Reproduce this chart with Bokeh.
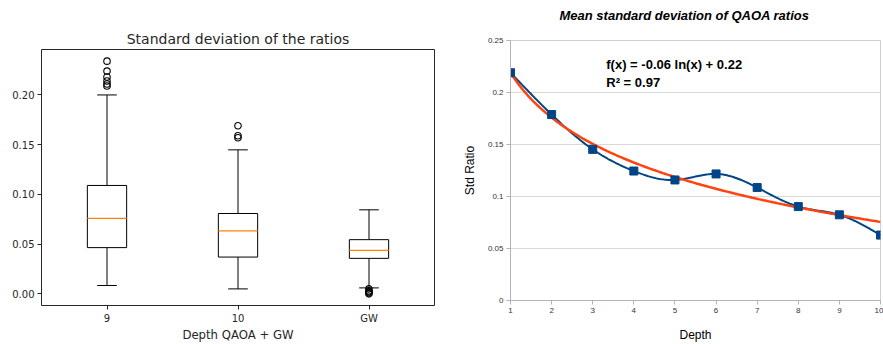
import numpy as np
from bokeh.plotting import figure
from bokeh.layouts import row, column
from bokeh.models import FixedTicker, Title, Label
from bokeh.embed import file_html
from bokeh.resources import INLINE

# ---------------- data: left box plot ----------------
box_labels = ["9", "10", "GW"]
whisker_low = [0.0084, 0.0050, 0.0060]
q1 = [0.0465, 0.0370, 0.0357]
median = [0.0760, 0.0633, 0.0437]
q3 = [0.1090, 0.0808, 0.0545]
whisker_high = [0.2000, 0.1448, 0.0845]
outliers_9 = [0.234, 0.224, 0.218, 0.214, 0.211, 0.209]
outliers_10 = [0.169, 0.159, 0.157]
outliers_gw = [0.005, 0.003, 0.002, 0.001, 0.000]
left_yticks = [0.00, 0.05, 0.10, 0.15, 0.20]
left_ytick_labels = ["0.00", "0.05", "0.10", "0.15", "0.20"]

# ---------------- data: right line chart ----------------
depth = [1, 2, 3, 4, 5, 6, 7, 8, 9, 10]
std_ratio = [0.219, 0.1788, 0.1453, 0.1245, 0.1159, 0.1217, 0.1086, 0.0903, 0.0824, 0.0629]
right_yticks = [0, 0.05, 0.1, 0.15, 0.2, 0.25]
right_ytick_labels = ["0", "0.05", "0.1", "0.15", "0.2", "0.25"]
eq_line1 = "f(x) = -0.06 ln(x) + 0.22"
eq_line2 = "R\u00b2 = 0.97"

# ================= left figure =================
MPL_FONT = "DejaVu Sans"
p1 = figure(width=440, height=344, output_backend="svg", toolbar_location=None,
            x_range=(0.5, 3.5), y_range=(-0.0117, 0.2457),
            min_border_left=41, min_border_right=6, min_border_top=49, min_border_bottom=39)
p1.title = Title(text="Standard deviation of the ratios", align="center",
                 text_font=MPL_FONT, text_font_size="14px", text_font_style="normal",
                 text_color="#262626", standoff=5)
p1.xgrid.visible = False
p1.ygrid.visible = False
p1.outline_line_color = "#262626"
p1.outline_line_width = 1
p1.outline_line_alpha = 1.0

pos = list(range(1, len(box_labels) + 1))
bw = 0.3
cw = 0.15
for ax in (p1.xaxis[0], p1.yaxis[0]):
    ax.axis_line_color = None
    ax.major_tick_line_color = "#262626"
    ax.major_tick_out = 4
    ax.major_tick_in = 0
    ax.minor_tick_line_color = None
    ax.major_label_text_font = MPL_FONT
    ax.major_label_text_font_size = "10px"
    ax.major_label_text_color = "#262626"
    ax.major_label_standoff = 3
p1.xaxis.ticker = FixedTicker(ticks=pos)
p1.xaxis.major_label_overrides = {pp: lab for pp, lab in zip(pos, box_labels)}
p1.yaxis.ticker = FixedTicker(ticks=left_yticks)
p1.yaxis.major_label_overrides = {t: l for t, l in zip(left_yticks, left_ytick_labels)}
p1.xaxis.axis_label = "Depth QAOA + GW"
p1.xaxis.axis_label_text_font = MPL_FONT
p1.xaxis.axis_label_text_font_size = "11.7px"
p1.xaxis.axis_label_text_font_style = "normal"
p1.xaxis.axis_label_text_color = "#262626"
p1.xaxis.axis_label_standoff = 1

# whiskers
p1.segment(x0=pos, y0=q1, x1=pos, y1=whisker_low, line_color="black", line_width=1)
p1.segment(x0=pos, y0=q3, x1=pos, y1=whisker_high, line_color="black", line_width=1)
# caps
p1.segment(x0=[x - cw / 2 for x in pos], y0=whisker_low, x1=[x + cw / 2 for x in pos], y1=whisker_low,
           line_color="black", line_width=1)
p1.segment(x0=[x - cw / 2 for x in pos], y0=whisker_high, x1=[x + cw / 2 for x in pos], y1=whisker_high,
           line_color="black", line_width=1)
# boxes
p1.quad(left=[x - bw / 2 for x in pos], right=[x + bw / 2 for x in pos], bottom=q1, top=q3,
        fill_color="white", line_color="black", line_width=1)
# medians
p1.segment(x0=[x - bw / 2 for x in pos], y0=median, x1=[x + bw / 2 for x in pos], y1=median,
           line_color="#ff7f0e", line_width=1.2)
# outliers
for pp, outs in zip(pos, [outliers_9, outliers_10, outliers_gw]):
    p1.scatter(x=[pp] * len(outs), y=outs, marker="circle", size=6.5,
               fill_color=None, line_color="black", line_width=1.1)

# ================= right figure =================
LO_FONT = "Liberation Sans"
p2 = figure(width=443, height=344, output_backend="svg", toolbar_location=None,
            x_range=(depth[0], depth[-1]), y_range=(0, 0.25),
            min_border_left=70, min_border_right=3, min_border_top=40, min_border_bottom=43)
p2.title = Title(text="Mean standard deviation of QAOA ratios", align="left", offset=49,
                 text_font=LO_FONT, text_font_size="13px", text_font_style="bold italic",
                 text_color="black", standoff=2)
# blank spacer between the title and the plot area
p2.add_layout(Title(text=" ", text_font=LO_FONT, text_font_size="13px", standoff=0), "above")
p2.xgrid.visible = False
p2.ygrid.grid_line_color = "#d9d9d9"
p2.ygrid.grid_line_width = 1
p2.outline_line_color = "#cfcfcf"
p2.outline_line_width = 1
p2.outline_line_alpha = 1.0
p2.ygrid.ticker = FixedTicker(ticks=right_yticks)
for ax in (p2.xaxis[0], p2.yaxis[0]):
    ax.axis_line_color = "#b3b3b3"
    ax.major_tick_line_color = "#b3b3b3"
    ax.major_tick_out = 4
    ax.major_tick_in = 0
    ax.minor_tick_line_color = None
    ax.major_label_text_font = LO_FONT
    ax.major_label_text_font_size = "8px"
    ax.major_label_text_color = "#333333"
    ax.major_label_standoff = 3
    ax.axis_label_text_font = LO_FONT
    ax.axis_label_text_font_size = "12px"
    ax.axis_label_text_font_style = "normal"
    ax.axis_label_text_color = "black"
p2.xaxis.ticker = FixedTicker(ticks=depth)
p2.yaxis.ticker = FixedTicker(ticks=right_yticks)
p2.yaxis.major_label_overrides = {t: l for t, l in zip(right_yticks, right_ytick_labels)}
p2.xaxis.axis_label = "Depth"
p2.xaxis.axis_label_standoff = 12
p2.yaxis.axis_label = "Std Ratio"
p2.yaxis.axis_label_standoff = 8


def natural_cubic_spline(xs, ys, per_seg=30):
    xs = np.asarray(xs, float)
    ys = np.asarray(ys, float)
    n = len(xs)
    h = np.diff(xs)
    A = np.zeros((n, n))
    r = np.zeros(n)
    A[0, 0] = 1
    A[-1, -1] = 1
    for i in range(1, n - 1):
        A[i, i - 1] = h[i - 1]
        A[i, i] = 2 * (h[i - 1] + h[i])
        A[i, i + 1] = h[i]
        r[i] = 3 * ((ys[i + 1] - ys[i]) / h[i] - (ys[i] - ys[i - 1]) / h[i - 1])
    c = np.linalg.solve(A, r)
    out_x, out_y = [], []
    for i in range(n - 1):
        b = (ys[i + 1] - ys[i]) / h[i] - h[i] * (2 * c[i] + c[i + 1]) / 3
        d = (c[i + 1] - c[i]) / (3 * h[i])
        t = np.linspace(0, h[i], per_seg, endpoint=(i == n - 2))
        out_x.extend(xs[i] + t)
        out_y.extend(ys[i] + b * t + c[i] * t ** 2 + d * t ** 3)
    return out_x, out_y


sx, sy = natural_cubic_spline(depth, std_ratio)
p2.line(sx, sy, line_color="#004586", line_width=2)

# logarithmic regression trend line (least squares on ln x)
a, b = np.polyfit(np.log(depth), std_ratio, 1)
tx = np.linspace(depth[0], depth[-1], 200)
p2.line(tx, a * np.log(tx) + b, line_color="#ff420e", line_width=2.5)

p2.scatter(depth, std_ratio, marker="square", size=8, fill_color="#004586", line_color="#004586")

p2.add_layout(Label(x=3.33, y=0.2337, text=eq_line1, text_font=LO_FONT, text_font_size="13px",
                    text_font_style="bold", text_color="black", text_baseline="top"))
p2.add_layout(Label(x=3.33, y=0.2337 - 0.0165, text=eq_line2, text_font=LO_FONT, text_font_size="13px",
                    text_font_style="bold", text_color="black", text_baseline="top"))

layout = row(column(p1), column(p2))
open("out.html", "w").write(file_html(layout, INLINE))
